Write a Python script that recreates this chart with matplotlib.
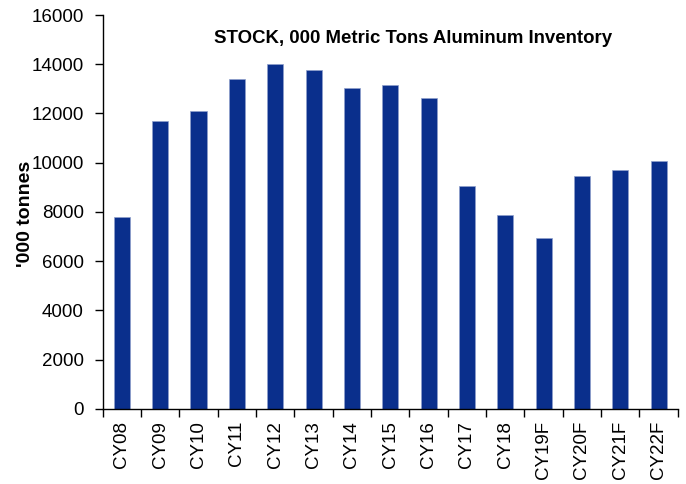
import matplotlib
matplotlib.use("Agg")
import matplotlib.pyplot as plt
import numpy as np

categories = ["CY08", "CY09", "CY10", "CY11", "CY12", "CY13", "CY14", "CY15",
              "CY16", "CY17", "CY18", "CY19F", "CY20F", "CY21F", "CY22F"]
stock = [7780, 11700, 12090, 13410, 14000, 13750, 13030, 13150,
         12610, 9040, 7890, 6940, 9450, 9700, 10070]
y_ticks = [0, 2000, 4000, 6000, 8000, 10000, 12000, 14000, 16000]

plt.rcParams["font.family"] = ["Liberation Sans", "DejaVu Sans"]

fig = plt.figure(figsize=(6.86, 4.84), dpi=100)
ax = fig.add_axes([0.1497, 0.155, 0.988 - 0.1497, 0.969 - 0.155])

x = np.arange(len(categories))
ax.bar(x, stock, width=0.42, color="#0A2F8C", edgecolor="#8FA0CC", linewidth=0.5)

ax.set_xlim(-0.5, len(categories) - 0.5)
ax.set_ylim(0, 16000)
ax.set_yticks(y_ticks)
ax.set_yticklabels([str(v) for v in y_ticks], fontsize=13.5)

ax.set_xticks(x)
ax.set_xticklabels(categories, rotation=90, fontsize=13.5)
ax.tick_params(axis="x", which="major", length=0, pad=8.5)
ax.set_xticks(np.arange(-0.5, len(categories)), minor=True)
ax.tick_params(axis="x", which="minor", length=6, width=1, direction="out")
ax.tick_params(axis="y", length=6, width=1, direction="out", pad=7.5)

for s in ["top", "right"]:
    ax.spines[s].set_visible(False)
for s in ["left", "bottom"]:
    ax.spines[s].set_linewidth(1)

ax.set_ylabel("'000 tonnes", fontsize=14, fontweight="bold", va="center")
ax.yaxis.set_label_coords(-0.135, 0.495)
ax.text(0.54, 0.94, "STOCK, 000 Metric Tons Aluminum Inventory",
        transform=ax.transAxes, ha="center", va="center",
        fontsize=13.4, fontweight="bold")

fig.savefig("out.png", dpi=100)
